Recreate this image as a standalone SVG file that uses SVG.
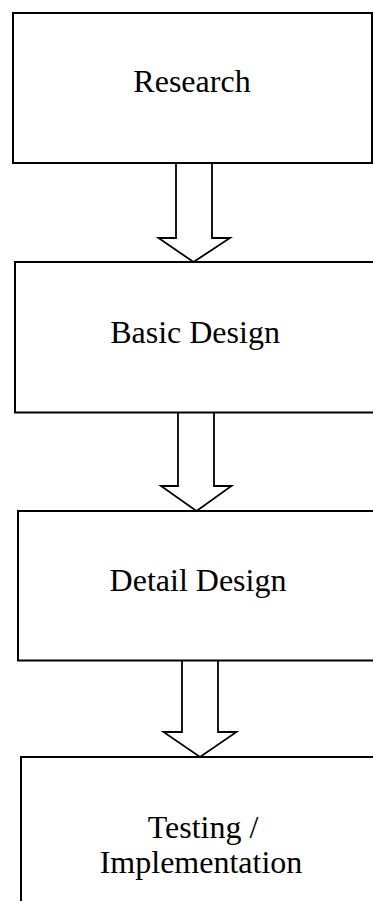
<svg xmlns="http://www.w3.org/2000/svg" width="373" height="901" viewBox="0 0 373 901">
  <style>
    .box { fill: #ffffff; stroke: #000000; stroke-width: 2; }
    .arrow { fill: #ffffff; stroke: #000000; stroke-width: 1.8; stroke-linejoin: miter; }
    .label { font-family: "Liberation Serif", "Times New Roman", serif; font-size: 32px; fill: #000000; text-anchor: middle; }
  </style>
  <rect x="0" y="0" width="373" height="901" fill="#ffffff"/>

  <!-- block arrows sit underneath the boxes so the box edges stay unbroken -->
  <g id="connectors">
    <path class="arrow" d="M176,163 L176,238 L158.5,238 L193.5,262 L230,238 L212,238 L212,163"/>
    <path class="arrow" d="M178,412.5 L178,486 L161,486 L196.5,511 L231.5,486 L214,486 L214,412.5"/>
    <path class="arrow" d="M182,660.5 L182,732 L163.5,732 L200,757 L236.5,732 L218,732 L218,660.5"/>
  </g>

  <g id="research">
    <rect class="box" x="13" y="13" width="359" height="150"/>
    <text class="label" x="192" y="92">Research</text>
  </g>

  <g id="basic-design">
    <rect class="box" x="15" y="262" width="380" height="150.5"/>
    <text class="label" x="195" y="343">Basic Design</text>
  </g>

  <g id="detail-design">
    <rect class="box" x="18" y="511" width="380" height="149.5"/>
    <text class="label" x="198" y="590.5">Detail Design</text>
  </g>

  <g id="testing-implementation">
    <rect class="box" x="21" y="757" width="380" height="170"/>
    <text class="label" x="203" y="838">Testing /</text>
    <text class="label" x="201" y="872.5">Implementation</text>
  </g>
</svg>
